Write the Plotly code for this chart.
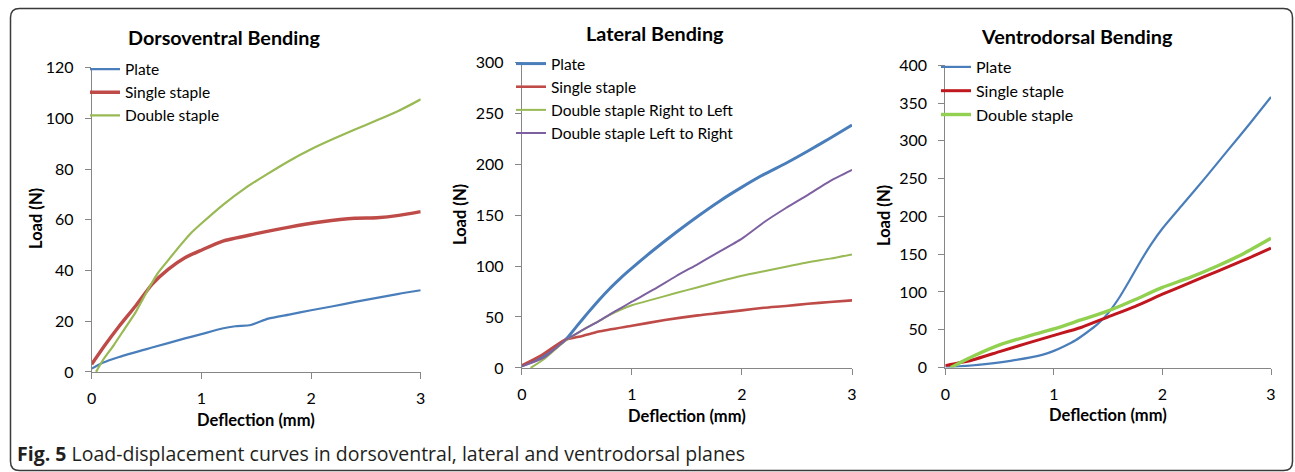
import plotly.graph_objects as go

W, H = 1295, 472

# ---------------- data ----------------
# Dorsoventral bending
dv_plate_x = [0, 0.1, 0.25, 0.55, 0.85, 1.0, 1.19, 1.31, 1.45, 1.61, 1.8, 2.0, 2.2, 2.4, 2.6, 2.8, 3.0]
dv_plate_y = [1.3, 3.6, 5.9, 9.6, 13.2, 14.9, 17.1, 18.0, 18.5, 21.0, 22.6, 24.3, 25.9, 27.6, 29.2, 30.8, 32.2]
dv_single_x = [0, 0.12, 0.25, 0.4, 0.55, 0.7, 0.85, 1.0, 1.19, 1.49, 1.79, 2.1, 2.4, 2.6, 2.8, 3.0]
dv_single_y = [3.0, 10.5, 18.0, 26.0, 34.5, 40.5, 45.0, 48.0, 51.5, 54.4, 57.0, 59.2, 60.6, 60.8, 61.7, 63.2]
dv_double_x = [0.04, 0.1, 0.2, 0.3, 0.4, 0.52, 0.6, 0.7, 0.8, 0.9, 1.0, 1.2, 1.4, 1.6, 1.8, 2.0, 2.2, 2.4, 2.6, 2.8, 3.0]
dv_double_y = [0, 4.5, 10.5, 17.0, 23.5, 33.0, 38.8, 44.2, 49.5, 54.5, 58.5, 66.0, 72.5, 78.0, 83.2, 87.8, 91.8, 95.6, 99.2, 103.0, 107.5]

# Lateral bending
lb_plate_x = [0, 0.2, 0.4, 0.5, 0.6, 0.7, 0.8, 0.9, 1.0, 1.2, 1.4, 1.6, 1.8, 2.0, 2.2, 2.4, 2.6, 2.8, 3.0]
lb_plate_y = [2.0, 11.5, 28, 41, 54, 66.5, 78, 88.5, 98, 116, 133, 149, 164, 177.5, 190, 201, 213, 225.5, 238.5]
lb_single_x = [0, 0.18, 0.39, 0.55, 0.7, 1.0, 1.3, 1.6, 1.8, 2.0, 2.2, 2.4, 2.6, 2.8, 3.0]
lb_single_y = [2.5, 12.6, 27.5, 31.4, 35.7, 41.4, 47.0, 51.6, 54.0, 56.5, 59.0, 60.8, 63.0, 64.7, 66.3]
lb_rtl_x = [0.08, 0.2, 0.4, 0.55, 0.7, 0.8, 0.9, 1.0, 1.2, 1.4, 1.6, 1.8, 2.0, 2.2, 2.4, 2.6, 2.8, 3.0]
lb_rtl_y = [0, 8.5, 27, 37, 46, 52, 57.3, 61.5, 67.5, 73.5, 79.2, 85, 90.5, 95, 99.3, 103.8, 107.3, 111.5]
lb_ltr_x = [0, 0.2, 0.4, 0.55, 0.7, 0.8, 0.9, 1.0, 1.2, 1.4, 1.6, 1.76, 2.0, 2.2, 2.4, 2.6, 2.8, 3.0]
lb_ltr_y = [1.5, 10, 27.5, 37, 46, 52.5, 58.8, 65, 77, 90, 102, 112, 127, 143, 157, 170, 183.5, 194.5]

# Ventrodorsal bending
vd_plate_x = [0, 0.3, 0.6, 0.9, 1.0, 1.1, 1.2, 1.3, 1.4, 1.5, 1.6, 1.7, 1.8, 1.9, 2.0, 2.2, 2.4, 2.6, 2.8, 3.0]
vd_plate_y = [0, 3.5, 8.8, 17.0, 22, 28.5, 36, 46, 57, 72, 92, 116, 141, 164, 184, 218, 252, 287, 322, 358]
vd_single_x = [0, 0.25, 0.5, 0.75, 1.0, 1.25, 1.5, 1.75, 2.0, 2.25, 2.5, 2.75, 3.0]
vd_single_y = [2.5, 10, 21, 32, 42.5, 53, 67, 81, 97, 112, 127, 142, 158]
vd_double_x = [0.05, 0.25, 0.5, 0.75, 1.0, 1.25, 1.5, 1.75, 2.0, 2.25, 2.5, 2.75, 3.0]
vd_double_y = [0, 14.6, 30, 41, 51, 63, 75, 90, 106, 119, 134, 151, 171]

titles = ["Dorsoventral Bending", "Lateral Bending", "Ventrodorsal Bending"]
x_title = "Deflection (mm)"
y_title = "Load (N)"
caption_bold = "Fig. 5"
caption_text = "Load-displacement curves in dorsoventral, lateral and ventrodorsal planes"

BLUE = "#4A7EBB"
RED = "#BE4B48"
GREEN = "#98B954"
PURPLE = "#7D60A0"
RED3 = "#C0171E"
GREEN3 = "#92D050"

FONT = "Lato"

fig = go.Figure()


def add(x, y, name, color, width, ax, legend):
    fig.add_trace(go.Scatter(
        x=x, y=y, name=name, mode="lines",
        line=dict(color=color, width=width, shape="spline", smoothing=0.6),
        xaxis="x" + ax, yaxis="y" + ax, legend=legend, legendgroup=legend + name,
        hoverinfo="skip",
    ))


add(dv_plate_x, dv_plate_y, "Plate", BLUE, 2.2, "", "legend")
add(dv_single_x, dv_single_y, "Single staple", RED, 3.4, "", "legend")
add(dv_double_x, dv_double_y, "Double staple", GREEN, 2.2, "", "legend")

add(lb_plate_x, lb_plate_y, "Plate", BLUE, 3.0, "2", "legend2")
add(lb_single_x, lb_single_y, "Single staple", RED, 2.6, "2", "legend2")
add(lb_rtl_x, lb_rtl_y, "Double staple Right to Left", GREEN, 2.0, "2", "legend2")
add(lb_ltr_x, lb_ltr_y, "Double staple Left to Right", PURPLE, 2.0, "2", "legend2")

add(vd_plate_x, vd_plate_y, "Plate", BLUE, 2.2, "3", "legend3")
add(vd_single_x, vd_single_y, "Single staple", RED3, 3.0, "3", "legend3")
add(vd_double_x, vd_double_y, "Double staple", GREEN3, 3.4, "3", "legend3")


def px(xp):
    return xp / W


def py(yp):
    return 1 - yp / H


AXC = "#868686"
tickfont = dict(family=FONT, size=16, color="#000")


def xaxis(dom, anchor):
    return dict(domain=dom, anchor=anchor, range=[0, 3], dtick=1, tick0=0,
                showline=True, linecolor=AXC, linewidth=1, ticks="outside",
                ticklen=6, tickcolor=AXC, tickwidth=1, showgrid=False,
                zeroline=False, tickfont=tickfont, fixedrange=True, automargin=False,
                ticklabelstandoff=6)


def yaxis(dom, anchor, rng, dt):
    return dict(domain=dom, anchor=anchor, range=rng, dtick=dt, tick0=0,
                showline=True, linecolor=AXC, linewidth=1, ticks="outside",
                ticklen=6, tickcolor=AXC, tickwidth=1, showgrid=False,
                zeroline=False, tickfont=tickfont, fixedrange=True, automargin=False,
                ticklabelstandoff=8)


panels = [
    # x0, x1, y(0), y(top)
    (91.7, 420.7, 371.9, 67.6),
    (521.8, 852.0, 367.9, 62.4),
    (945.3, 1271.0, 367.5, 65.3),
]

legfont = dict(family=FONT, size=15.5, color="#000")
legfont3 = dict(family=FONT, size=16, color="#000")

fig.update_layout(
    width=W, height=H,
    margin=dict(l=0, r=0, t=0, b=0, pad=0, autoexpand=False),
    paper_bgcolor="white", plot_bgcolor="white",
    hovermode=False,
    xaxis=xaxis([px(panels[0][0]), px(panels[0][1])], "y"),
    yaxis=yaxis([py(panels[0][2]), py(panels[0][3])], "x", [0, 120], 20),
    xaxis2=xaxis([px(panels[1][0]), px(panels[1][1])], "y2"),
    yaxis2=yaxis([py(panels[1][2]), py(panels[1][3])], "x2", [0, 300], 50),
    xaxis3=xaxis([px(panels[2][0]), px(panels[2][1])], "y3"),
    yaxis3=yaxis([py(panels[2][2]), py(panels[2][3])], "x3", [0, 400], 50),
    legend=dict(x=px(85), y=py(52.5), xanchor="left", yanchor="top",
                bgcolor="rgba(0,0,0,0)", font=legfont, tracegroupgap=0, itemwidth=30),
    legend2=dict(x=px(511), y=py(47), xanchor="left", yanchor="top",
                 bgcolor="rgba(0,0,0,0)", font=legfont, tracegroupgap=0, itemwidth=30),
    legend3=dict(x=px(936), y=py(50), xanchor="left", yanchor="top",
                 bgcolor="rgba(0,0,0,0)", font=legfont3, tracegroupgap=0, itemwidth=30),
    showlegend=True,
)

ann = []
title_pos = [(224, 37), (655, 33), (1077, 36)]
ylab_pos = [(36, 219), (460, 215), (884, 216)]
xlab_pos = [(256, 420), (687, 416), (1108, 415)]
for t, (tx, ty) in zip(titles, title_pos):
    ann.append(dict(text="<b>%s</b>" % t, x=px(tx), y=py(ty), xref="paper", yref="paper",
                    showarrow=False, xanchor="center", yanchor="middle",
                    font=dict(family=FONT, size=19.8, color="#000")))
for (tx, ty) in ylab_pos:
    ann.append(dict(text="<b>%s</b>" % y_title, x=px(tx), y=py(ty), xref="paper", yref="paper",
                    showarrow=False, xanchor="center", yanchor="middle", textangle=-90,
                    font=dict(family=FONT, size=16.5, color="#000")))
for (tx, ty) in xlab_pos:
    ann.append(dict(text="<b>%s</b>" % x_title, x=px(tx), y=py(ty), xref="paper", yref="paper",
                    showarrow=False, xanchor="center", yanchor="middle",
                    font=dict(family=FONT, size=16.5, color="#000")))
ann.append(dict(text="<b>%s</b> %s" % (caption_bold, caption_text), x=px(15), y=py(453),
                xref="paper", yref="paper", showarrow=False, xanchor="left", yanchor="middle",
                font=dict(family="Open Sans", size=19.5, color="#231f20")))
fig.update_layout(annotations=ann)

# rounded frame
L, R, T, B, r = 10.5, 1292.5, 8.5, 470.5, 9


def P(x, y):
    return "%.5f,%.5f" % (px(x), py(y))


path = ("M " + P(L + r, T) + " L " + P(R - r, T) + " Q " + P(R, T) + " " + P(R, T + r) +
        " L " + P(R, B - r) + " Q " + P(R, B) + " " + P(R - r, B) +
        " L " + P(L + r, B) + " Q " + P(L, B) + " " + P(L, B - r) +
        " L " + P(L, T + r) + " Q " + P(L, T) + " " + P(L + r, T) + " Z")
fig.add_shape(type="path", path=path, xref="paper", yref="paper",
              line=dict(color="#3a3a3a", width=1.5), fillcolor="rgba(0,0,0,0)", layer="below")

fig.write_html("out.html", config={"displayModeBar": False, "staticPlot": True},
               post_script="document.body.style.margin='0px';document.body.style.padding='0px';")
